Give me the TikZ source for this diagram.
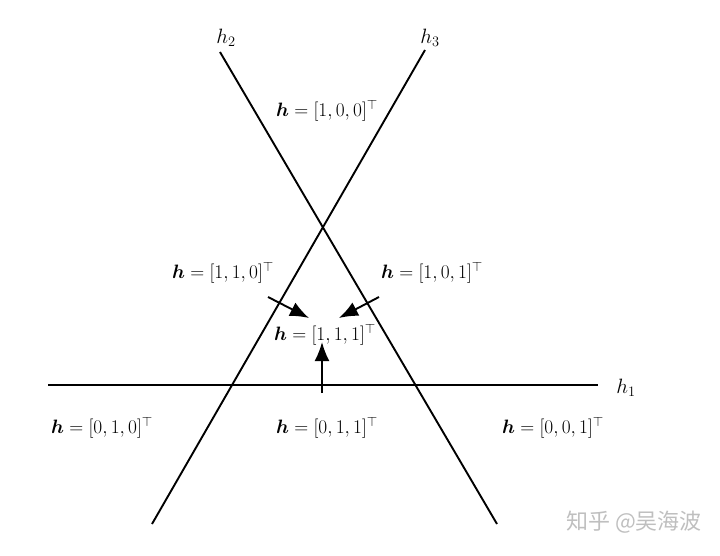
\documentclass[tikz,border=0pt]{standalone}
\usepackage{amsmath,bm}
\usepackage{fontspec}
\newfontfamily\cjk{Noto Sans CJK SC}
\usetikzlibrary{arrows.meta}
\newcommand{\hv}[1]{\scalebox{1.12}{\fontsize{18}{20}\selectfont$\bm{h}=[#1]^\top$}}
\begin{document}
\begin{tikzpicture}[x=1pt,y=-1pt,
  hline/.style={line width=1.9pt},
  arr/.style={line width=1.9pt,-{Latex[length=19pt,width=15pt]}},
  lab/.style={inner sep=0pt},
  hlab/.style={inner sep=0pt,font=\fontsize{21}{23}\selectfont}]
\useasboundingbox (0,0) rectangle (720,556);
\coordinate (a1) at (48,385);
\coordinate (b1) at (598,385);
\coordinate (a2) at (220,52);
\coordinate (b2) at (497,524);
\coordinate (a3) at (425,50);
\coordinate (b3) at (152,524);
\draw[hline] (a1) -- (b1);
\draw[hline] (a2) -- (b2);
\draw[hline] (a3) -- (b3);
\node[hlab] (l1) at (626,388) {$h_1$};
\node[hlab] (l2) at (226,38) {$h_2$};
\node[hlab] (l3) at (430,38) {$h_3$};
\node[lab] (n100) at (327,111) {\hv{1,0,0}};
\node[lab] (n110) at (223,273) {\hv{1,1,0}};
\node[lab] (n101) at (432,273) {\hv{1,0,1}};
\node[lab] (n111) at (325,335) {\hv{1,1,1}};
\node[lab] (n010) at (102,428) {\hv{0,1,0}};
\node[lab] (n011) at (327,428) {\hv{0,1,1}};
\node[lab] (n001) at (553,428) {\hv{0,0,1}};
\coordinate (s1) at (268,297);
\coordinate (t1) at (309,318);
\coordinate (s2) at (379,297);
\coordinate (t2) at (339,318);
\coordinate (s3) at (322,393);
\coordinate (t3) at (322,342);
\draw[arr] (s1) -- (t1);
\draw[arr] (s2) -- (t2);
\draw[arr] (s3) -- (t3);
\node[inner sep=0pt,text=black!25,font=\cjk\fontsize{22}{24}\selectfont] (wm) at (634,522) {知乎 @吴海波};
\end{tikzpicture}
\end{document}
